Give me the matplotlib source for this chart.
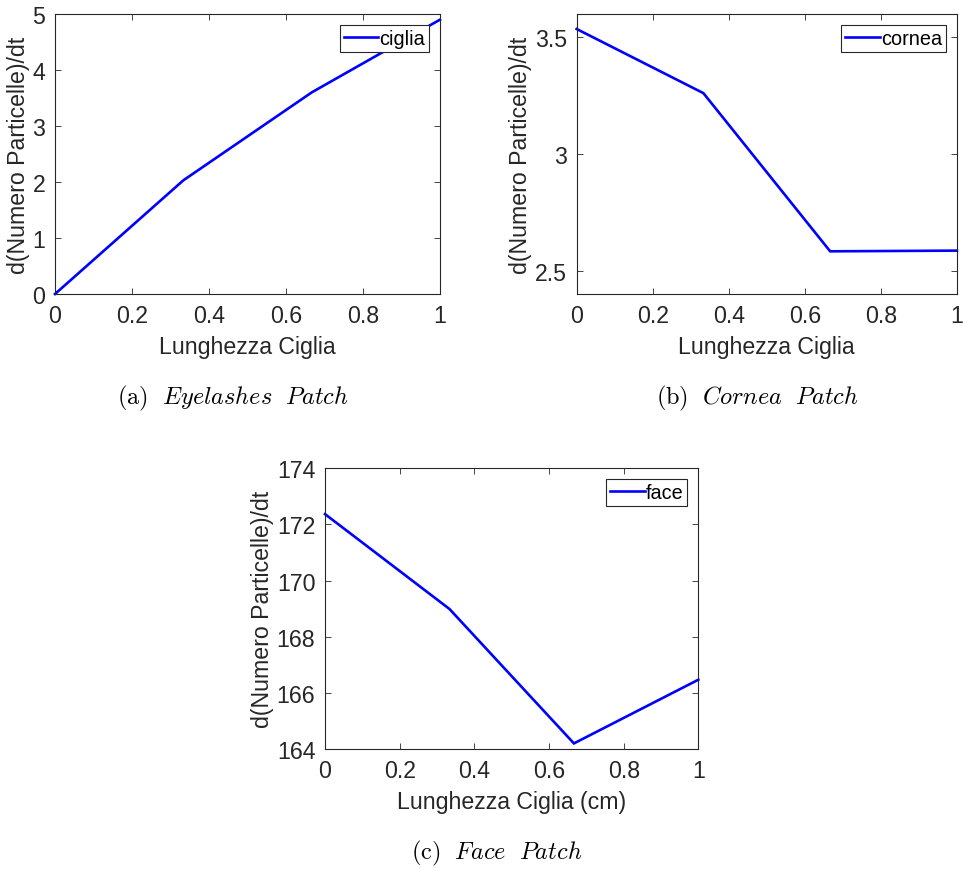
import matplotlib
matplotlib.use("Agg")
import matplotlib.pyplot as plt

plt.rcParams['font.family'] = ['Liberation Sans', 'DejaVu Sans']
plt.rcParams['mathtext.fontset'] = 'cm'

# Eyelash length samples (shared x values)
lunghezza = [0.0, 1/3, 2/3, 1.0]

# d(Numero Particelle)/dt for each patch
ciglia = [0.0, 2.03, 3.60, 4.90]
cornea = [3.536, 3.261, 2.583, 2.586]
face = [172.37, 168.99, 164.2, 166.47]

xticks = [0, 0.2, 0.4, 0.6, 0.8, 1]
xticklabels = ['0', '0.2', '0.4', '0.6', '0.8', '1']

fig = plt.figure(figsize=(9.63, 8.7), dpi=100)

panels = [
    dict(rect=[0.0571, 0.6609, 0.3998, 0.3218], y=ciglia, label='ciglia',
         ylim=(0, 5), yticks=[0, 1, 2, 3, 4, 5], yticklabels=['0', '1', '2', '3', '4', '5'],
         xlabel='Lunghezza Ciglia',
         caption=r'$\mathrm{(a)}\ \ Eyelashes\ \ Patch$', cap_xy=(233, 398)),
    dict(rect=[0.5988, 0.6609, 0.3949, 0.3218], y=cornea, label='cornea',
         ylim=(2.4, 3.6), yticks=[2.5, 3, 3.5], yticklabels=['2.5', '3', '3.5'],
         xlabel='Lunghezza Ciglia',
         caption=r'$\mathrm{(b)}\ \ Cornea\ \ Patch$', cap_xy=(757, 398)),
    dict(rect=[0.3375, 0.1379, 0.3877, 0.3226], y=face, label='face',
         ylim=(164, 174), yticks=[164, 166, 168, 170, 172, 174],
         yticklabels=['164', '166', '168', '170', '172', '174'],
         xlabel='Lunghezza Ciglia (cm)',
         caption=r'$\mathrm{(c)}\ \ Face\ \ Patch$', cap_xy=(497, 853)),
]

W, H = 963, 870
for p in panels:
    ax = fig.add_axes(p['rect'])
    ax.plot(lunghezza, p['y'], color='#0000ff', lw=1.9, label=p['label'],
            solid_joinstyle='miter', clip_on=False)
    ax.set_xlim(0, 1)
    ax.set_ylim(*p['ylim'])
    ax.set_xticks(xticks)
    ax.set_xticklabels(xticklabels)
    ax.set_yticks(p['yticks'])
    ax.set_yticklabels(p['yticklabels'])
    ax.tick_params(direction='in', top=True, right=True, length=4, width=0.6,
                   labelsize=16.7, colors='#262626', pad=7)
    for s in ax.spines.values():
        s.set_linewidth(0.8)
        s.set_color('#262626')
    ax.set_xlabel(p['xlabel'], fontsize=16.7, color='#262626', labelpad=6)
    ax.set_ylabel('d(Numero Particelle)/dt', fontsize=16.7, color='#262626', labelpad=2)
    leg = ax.legend(loc='upper right', fontsize=14.3, handlelength=1.75,
                    handletextpad=0.05, borderpad=0.2, borderaxespad=0.55,
                    fancybox=False, framealpha=1)
    leg.get_frame().set_edgecolor('#262626')
    leg.get_frame().set_linewidth(0.8)
    cx, cy = p['cap_xy']
    fig.text(cx / W, 1 - cy / H, p['caption'], ha='center', va='center', fontsize=17.5)

fig.savefig('out.png', dpi=100)
